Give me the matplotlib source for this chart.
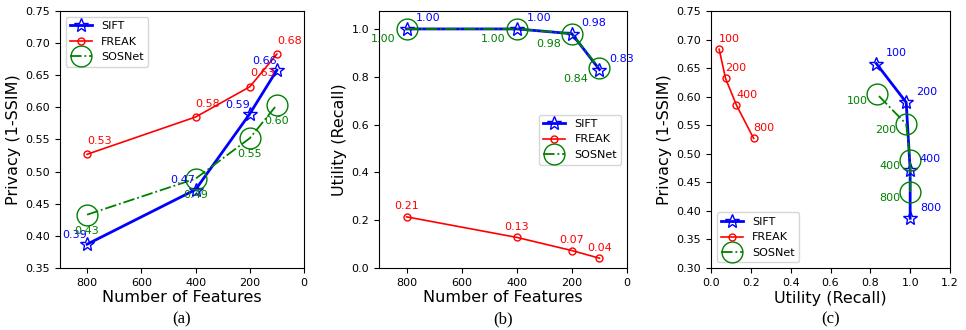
import matplotlib
matplotlib.use("Agg")
import matplotlib.pyplot as plt

features = [800, 400, 200, 100]
feature_labels = ["800", "400", "200", "100"]

sift_privacy = [0.387, 0.472, 0.590, 0.658]
freak_privacy = [0.527, 0.585, 0.632, 0.683]
sosnet_privacy = [0.433, 0.489, 0.552, 0.604]

sift_utility = [1.00, 1.00, 0.98, 0.83]
freak_utility = [0.214, 0.128, 0.073, 0.041]
sosnet_utility = [1.00, 1.00, 0.98, 0.835]

sift_privacy_lbl = ["0.39", "0.47", "0.59", "0.66"]
freak_privacy_lbl = ["0.53", "0.58", "0.63", "0.68"]
sosnet_privacy_lbl = ["0.43", "0.49", "0.55", "0.60"]
sift_utility_lbl = ["1.00", "1.00", "0.98", "0.83"]
freak_utility_lbl = ["0.21", "0.13", "0.07", "0.04"]
sosnet_utility_lbl = ["1.00", "1.00", "0.98", "0.84"]

plt.rcParams['font.family'] = ['DejaVu Sans']
fig = plt.figure(figsize=(9.66, 3.30), dpi=100)

W, H = 966, 330
def mk(l, r, t=11, b=268):
    return fig.add_axes([l / W, 1 - b / H, (r - l) / W, (b - t) / H])

axa = mk(60, 304)
axb = mk(379, 627)
axc = mk(711, 950)

sift_kw = dict(color='blue', marker='*', markersize=10, markerfacecolor='none',
               markeredgecolor='blue', linewidth=2, label='SIFT')
freak_kw = dict(color='red', marker='o', markersize=5, markerfacecolor='none',
                markeredgecolor='red', linewidth=1.2, label='FREAK')
sosnet_kw = dict(color='green', marker='o', markersize=15, markerfacecolor='none',
                 markeredgecolor='green', linewidth=1.3, linestyle='-.', label='SOSNet')

fs = 8

def annot(ax, xs, ys, labels, color, off, ha, va):
    for x, y, t in zip(xs, ys, labels):
        ax.annotate(t, (x, y), xytext=off, textcoords='offset points',
                    ha=ha, va=va, color=color, fontsize=fs)

# (a)
axa.plot(features, sift_privacy, **sift_kw)
axa.plot(features, freak_privacy, **freak_kw)
axa.plot(features, sosnet_privacy, **sosnet_kw)
annot(axa, features, sift_privacy, sift_privacy_lbl, 'blue', (0, 3), 'right', 'bottom')
annot(axa, features, freak_privacy, freak_privacy_lbl, 'red', (0, 6), 'left', 'bottom')
annot(axa, features, sosnet_privacy, sosnet_privacy_lbl, 'green', (0, -8), 'center', 'top')
axa.set_xlim(900, 0)
axa.set_ylim(0.35, 0.75)
axa.set_yticks([0.35, 0.40, 0.45, 0.50, 0.55, 0.60, 0.65, 0.70, 0.75])
axa.set_xticks([800, 600, 400, 200, 0])
axa.set_xlabel('Number of Features', fontsize=11.5, labelpad=2)
axa.set_ylabel('Privacy (1-SSIM)', fontsize=11.5, labelpad=3)
axa.legend(loc='upper left', fontsize=fs)

# (b)
axb.plot(features, sift_utility, **sift_kw)
axb.plot(features, freak_utility, **freak_kw)
axb.plot(features, sosnet_utility, **sosnet_kw)
annot(axb, features, sift_utility, sift_utility_lbl, 'blue', (7, 4), 'left', 'bottom')
annot(axb, features, freak_utility, freak_utility_lbl, 'red', (0, 4), 'center', 'bottom')
annot(axb, features, sosnet_utility, sosnet_utility_lbl, 'green', (-8, -4), 'right', 'top')
axb.set_xlim(900, 0)
axb.set_ylim(0, 1.075)
axb.set_yticks([0.0, 0.2, 0.4, 0.6, 0.8, 1.0])
axb.set_xticks([800, 600, 400, 200, 0])
axb.set_xlabel('Number of Features', fontsize=11.5, labelpad=2)
axb.set_ylabel('Utility (Recall)', fontsize=11.5, labelpad=3)
axb.legend(loc='center right', fontsize=fs)

# (c)
axc.plot(sift_utility, sift_privacy, **sift_kw)
axc.plot(freak_utility, freak_privacy, **freak_kw)
axc.plot(sosnet_utility, sosnet_privacy, **sosnet_kw)
annot(axc, sift_utility, sift_privacy, feature_labels, 'blue', (7, 4), 'left', 'bottom')
annot(axc, freak_utility, freak_privacy, feature_labels, 'red', (0, 4), 'left', 'bottom')
annot(axc, sosnet_utility, sosnet_privacy, feature_labels, 'green', (-7, -1), 'right', 'top')
axc.set_xlim(0, 1.2)
axc.set_ylim(0.30, 0.75)
axc.set_xticks([0.0, 0.2, 0.4, 0.6, 0.8, 1.0, 1.2])
axc.set_yticks([0.30, 0.35, 0.40, 0.45, 0.50, 0.55, 0.60, 0.65, 0.70, 0.75])
axc.set_xlabel('Utility (Recall)', fontsize=11.5, labelpad=2)
axc.set_ylabel('Privacy (1-SSIM)', fontsize=11.5, labelpad=3)
axc.legend(loc='lower left', fontsize=fs)

for ax in (axa, axb, axc):
    ax.tick_params(labelsize=8)

for ax, cap in ((axa, '(a)'), (axb, '(b)'), (axc, '(c)')):
    pos = ax.get_position()
    fig.text((pos.x0 + pos.x1) / 2, 1 - 319 / H, cap, ha='center', va='center',
             fontsize=12, family=['Liberation Serif', 'DejaVu Serif'])

fig.savefig('out.png', dpi=100)
